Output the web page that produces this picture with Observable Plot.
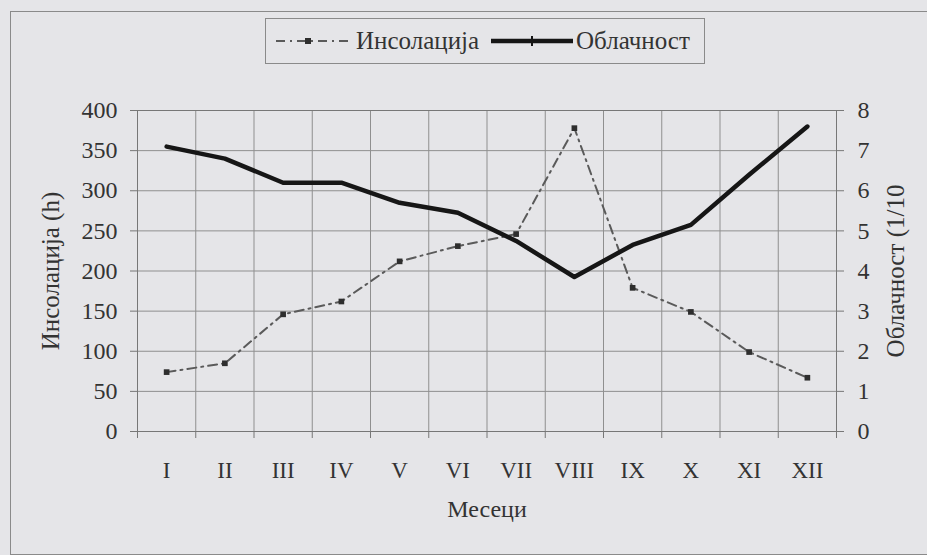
<!DOCTYPE html>
<html>
<head>
<meta charset="utf-8">
<script src="https://cdn.jsdelivr.net/npm/d3@7"></script>
<script src="https://cdn.jsdelivr.net/npm/@observablehq/plot@0.6"></script>
<style>
  html, body { margin: 0; padding: 0; background: #e5e5e8; }
  #wrap { position: relative; width: 927px; height: 555px; background: #e5e5e8; overflow: hidden; font-family: "Liberation Serif", "Times New Roman", "DejaVu Serif", serif; color: #333; }
  #frame { position: absolute; left: 10px; top: 11px; width: 930px; height: 542px; border: 1px solid #8a8a8a; border-right: none; }
  #legend { position: absolute; left: 265px; top: 18px; width: 438px; height: 44px; border: 1px solid #8a8a8a; }
  #legend svg { position: absolute; top: 0; }
  #legend span { position: absolute; top: 7px; font-size: 25px; line-height: 30px; color: #333; white-space: nowrap; }
  #chart { position: absolute; left: 0; top: 0; }
  #chart svg, #chart svg text { font-family: "Liberation Serif", "Times New Roman", "DejaVu Serif", serif !important; }
</style>
</head>
<body>
<div id="wrap">
  <div id="frame"></div>
  <div id="chart"></div>
  <div id="legend"></div>
</div>
<script>
const months = ["I", "II", "III", "IV", "V", "VI", "VII", "VIII", "IX", "X", "XI", "XII"];
const insolation = [74, 85, 146, 162, 212, 231, 246, 378, 179, 149, 99, 67];
const cloudiness = [7.1, 6.8, 6.2, 6.2, 5.7, 5.45, 4.75, 3.85, 4.65, 5.15, 6.4, 7.6];
const leftTicks = [0, 50, 100, 150, 200, 250, 300, 350, 400];
const rightTicks = [0, 1, 2, 3, 4, 5, 6, 7, 8];
const seriesNames = ["Инсолација", "Облачност"];
const yLabelLeft = "Инсолација (h)";
const yLabelRight = "Облачност (1/10";
const xLabel = "Месеци";

const ratio = 400 / 8; // right axis maps 0..8 onto 0..400
const data = months.map((m, i) => ({ m, pos: i + 0.5, ins: insolation[i], cl: cloudiness[i] }));

const chart = Plot.plot({
  width: 927,
  height: 555,
  marginLeft: 137,
  marginRight: 91,
  marginTop: 110,
  marginBottom: 124,
  style: { fontFamily: "'Liberation Serif', 'Times New Roman', 'DejaVu Serif', serif", color: "#333", background: "transparent", overflow: "visible" },
  x: { type: "linear", domain: [0, months.length] },
  y: { domain: [0, 400] },
  marks: [
    Plot.gridY(leftTicks.slice(1, -1), { stroke: "#8f8f8f", strokeOpacity: 1 }),
    Plot.gridX(d3.range(1, months.length), { stroke: "#8f8f8f", strokeOpacity: 1 }),
    Plot.frame({ stroke: "#777" }),
    Plot.axisY(leftTicks, { anchor: "left", tickSize: 7, tickPadding: 13, fontSize: 24, label: null, stroke: "#777" }),
    Plot.axisY(rightTicks.map(d => d * ratio), { anchor: "right", tickSize: 7, tickPadding: 14, fontSize: 24, label: null, tickFormat: d => d / ratio, stroke: "#777" }),
    Plot.axisX(d3.range(0, months.length + 1), { anchor: "bottom", tickSize: 7, tickFormat: () => "", label: null, stroke: "#777" }),
    Plot.axisX(data.map(d => d.pos), { anchor: "bottom", tickSize: 0, tickPadding: 30, fontSize: 23, label: null, tickFormat: p => months[Math.round(p - 0.5)] }),
    Plot.text([yLabelLeft], { frameAnchor: "left", textAnchor: "middle", dx: -87, rotate: -90, fontSize: 25, fill: "#333" }),
    Plot.text([yLabelRight], { frameAnchor: "right", textAnchor: "middle", dx: 59, rotate: -90, fontSize: 25, fill: "#333" }),
    Plot.text([xLabel], { frameAnchor: "bottom", dy: 85, fontSize: 24, fill: "#333", style: "letter-spacing:1px" }),
    Plot.line(data, { x: "pos", y: "ins", stroke: "#5a5a5a", strokeWidth: 2, strokeDasharray: "9,5,2,5" }),
    Plot.dot(data, { x: "pos", y: "ins", symbol: "square", r: 3.2, fill: "#2e2e2e", stroke: null }),
    Plot.line(data, { x: "pos", y: d => d.cl * ratio, stroke: "#161616", strokeWidth: 4.5, strokeLinejoin: "round" })
  ]
});
document.getElementById("chart").appendChild(chart);

// legend
const legend = document.getElementById("legend");
legend.innerHTML = `
  <svg style="left:8px" width="78" height="44">
    <line x1="2" x2="76" y1="22" y2="22" stroke="#5a5a5a" stroke-width="2" stroke-dasharray="9,5,2,5"/>
    <rect x="31" y="19" width="6" height="6" fill="#2e2e2e"/>
  </svg>
  <span style="left:90px">${seriesNames[0]}</span>
  <svg style="left:224px" width="84" height="44">
    <line x1="1" x2="83" y1="22" y2="22" stroke="#161616" stroke-width="4.5"/>
    <line x1="42" x2="42" y1="17" y2="27" stroke="#161616" stroke-width="2"/>
  </svg>
  <span style="left:310px">${seriesNames[1]}</span>
`;
</script>
</body>
</html>
